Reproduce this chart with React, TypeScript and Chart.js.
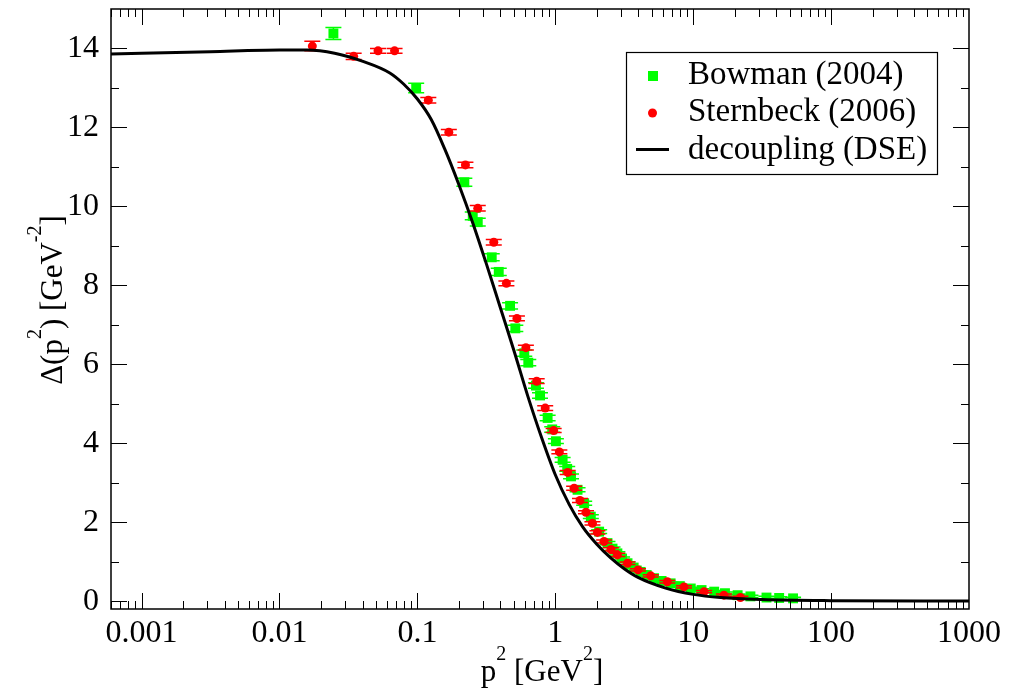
import React, { useEffect, useRef } from 'react';
import { Chart, registerables } from 'chart.js';

Chart.register(...registerables);

// ---------- data ----------
const xTickValues = [0.001, 0.01, 0.1, 1, 10, 100, 1000];
const xTickLabels = ['0.001', '0.01', '0.1', '1', '10', '100', '1000'];
const yTickValues = [0, 2, 4, 6, 8, 10, 12, 14];
const yTickLabels = ['0', '2', '4', '6', '8', '10', '12', '14'];

const bowmanX = [0.0246, 0.098, 0.219, 0.252, 0.274, 0.346, 0.389, 0.470, 0.513, 0.596, 0.637, 0.724, 0.775, 0.880, 0.95, 1.01, 1.13, 1.22, 1.30, 1.45, 1.62, 1.81, 2.08, 2.39, 2.6, 2.82, 3.05, 3.34, 3.7, 4.16, 4.6, 5.2, 5.9, 6.86, 8.0, 9.6, 11.5, 14.2, 17, 21, 26, 34, 42, 53];
const bowmanY = [14.38, 13.0, 10.61, 9.76, 9.6, 8.71, 8.34, 7.48, 6.91, 6.28, 6.04, 5.46, 5.21, 4.64, 4.35, 4.05, 3.58, 3.35, 3.16, 2.82, 2.48, 2.14, 1.76, 1.47, 1.33, 1.21, 1.08, 0.96, 0.85, 0.74, 0.66, 0.58, 0.51, 0.45, 0.38, 0.32, 0.28, 0.24, 0.2, 0.15, 0.12, 0.09, 0.08, 0.07];
const bowmanErr = [0.15, 0.12, 0.1, 0.1, 0.1, 0.09, 0.09, 0.08, 0.08, 0.08, 0.08, 0.07, 0.07, 0.07, 0.07, 0.06, 0.06, 0.06, 0.06, 0.05, 0.05, 0.05, 0.05, 0.04, 0.04, 0.04, 0.04, 0.04, 0.03, 0.03, 0.03, 0.03, 0.03, 0.03, 0.03, 0.03, 0.03, 0.03, 0.03, 0.03, 0.03, 0.03, 0.03, 0.03];

const sternbeckX = [0.0173, 0.0345, 0.0518, 0.0683, 0.120, 0.169, 0.223, 0.274, 0.358, 0.442, 0.527, 0.612, 0.733, 0.845, 0.973, 1.07, 1.23, 1.37, 1.51, 1.67, 1.86, 2.02, 2.26, 2.53, 2.82, 3.34, 3.98, 4.92, 6.49, 8.57, 12, 16.7, 22];
const sternbeckY = [14.06, 13.8, 13.94, 13.94, 12.69, 11.88, 11.05, 9.95, 9.09, 8.05, 7.16, 6.42, 5.57, 4.89, 4.32, 3.78, 3.26, 2.86, 2.55, 2.25, 1.97, 1.74, 1.51, 1.31, 1.17, 0.96, 0.79, 0.64, 0.49, 0.36, 0.24, 0.15, 0.09];
const sternbeckErr = [0.12, 0.08, 0.06, 0.06, 0.07, 0.07, 0.07, 0.07, 0.07, 0.06, 0.06, 0.06, 0.06, 0.06, 0.05, 0.05, 0.05, 0.05, 0.05, 0.04, 0.04, 0.04, 0.04, 0.04, 0.04, 0.03, 0.03, 0.03, 0.03, 0.03, 0.03, 0.03, 0.03];

const dseX = [0.0006, 0.001, 0.00316, 0.01, 0.0158, 0.0251, 0.0398, 0.0631, 0.0794, 0.1, 0.126, 0.158, 0.2, 0.251, 0.316, 0.398, 0.501, 0.631, 0.794, 1.0, 1.26, 1.58, 2.0, 2.51, 3.16, 3.98, 6.31, 10, 15.8, 31.6, 100, 1000];
const dseY = [13.86, 13.88, 13.92, 13.96, 13.96, 13.88, 13.68, 13.38, 13.1, 12.72, 12.2, 11.45, 10.55, 9.6, 8.55, 7.45, 6.35, 5.2, 4.15, 3.2, 2.45, 1.88, 1.44, 1.1, 0.82, 0.6, 0.33, 0.17, 0.09, 0.04, 0.012, 0.0];

const legendLabels = ['Bowman (2004)', 'Sternbeck (2006)', 'decoupling (DSE)'];

const X_MIN = 0.0006;
const X_MAX = 1000;
const Y_MIN = -0.2;
const Y_MAX = 15;

const FONT = "'Liberation Serif', 'Times New Roman', serif";
const GREEN = '#00ff00';
const RED = '#ff0000';

function drawRich(ctx: CanvasRenderingContext2D, parts: { t: string; sup?: boolean }[], cx: number, by: number) {
  const mainFont = `31px ${FONT}`;
  const supFont = `20px ${FONT}`;
  let w = 0;
  for (const p of parts) {
    ctx.font = p.sup ? supFont : mainFont;
    w += ctx.measureText(p.t).width;
  }
  let x = cx - w / 2;
  ctx.textAlign = 'left';
  ctx.textBaseline = 'alphabetic';
  ctx.fillStyle = '#000';
  for (const p of parts) {
    ctx.font = p.sup ? supFont : mainFont;
    ctx.fillText(p.t, x, p.sup ? by - 21 : by);
    x += ctx.measureText(p.t).width;
  }
}

const framePlugin = {
  id: 'framePlugin',
  afterDraw(chart: any) {
    const { ctx, chartArea: a, scales } = chart;
    const xs = scales.x;
    const ys = scales.y;
    ctx.save();
    ctx.strokeStyle = '#000';
    ctx.lineWidth = 1;
    ctx.beginPath();
    for (let d = -4; d <= 3; d++) {
      for (let m = 1; m <= 9; m++) {
        const v = m * Math.pow(10, d);
        if (v <= X_MIN || v >= X_MAX) continue;
        const px = Math.round(xs.getPixelForValue(v)) + 0.5;
        const len = m === 1 ? 16 : 8;
        ctx.moveTo(px, a.bottom);
        ctx.lineTo(px, a.bottom - len);
        ctx.moveTo(px, a.top);
        ctx.lineTo(px, a.top + len);
      }
    }
    for (let v = 0; v < Y_MAX; v++) {
      const py = Math.round(ys.getPixelForValue(v)) + 0.5;
      const len = v % 2 === 0 ? 16 : 8;
      ctx.moveTo(a.left, py);
      ctx.lineTo(a.left + len, py);
      ctx.moveTo(a.right, py);
      ctx.lineTo(a.right - len, py);
    }
    ctx.stroke();
    ctx.lineWidth = 1.5;
    ctx.strokeRect(a.left, a.top, a.right - a.left, a.bottom - a.top);

    // axis titles
    drawRich(ctx, [{ t: 'p' }, { t: '2', sup: true }, { t: ' [GeV' }, { t: '2', sup: true }, { t: ']' }], (a.left + a.right) / 2 + 2, 681);
    ctx.save();
    ctx.translate(62, 300);
    ctx.rotate(-Math.PI / 2);
    drawRich(ctx, [{ t: 'Δ(p' }, { t: '2', sup: true }, { t: ') [GeV' }, { t: '-2', sup: true }, { t: ']' }], 0, 0);
    ctx.restore();

    // legend
    ctx.fillStyle = '#fff';
    ctx.fillRect(626, 52, 312, 122);
    ctx.lineWidth = 1.2;
    ctx.strokeStyle = '#000';
    ctx.strokeRect(626.5, 52.5, 311, 122);
    ctx.fillStyle = GREEN;
    ctx.fillRect(648, 71, 10, 10);
    ctx.fillStyle = RED;
    ctx.beginPath();
    ctx.arc(652.5, 113, 4.5, 0, Math.PI * 2);
    ctx.fill();
    ctx.strokeStyle = '#000';
    ctx.lineWidth = 3;
    ctx.beginPath();
    ctx.moveTo(636, 149.5);
    ctx.lineTo(669, 149.5);
    ctx.stroke();
    ctx.fillStyle = '#000';
    ctx.font = `33px ${FONT}`;
    ctx.textAlign = 'left';
    ctx.textBaseline = 'alphabetic';
    ctx.fillText(legendLabels[0], 688, 84);
    ctx.fillText(legendLabels[1], 688, 121);
    ctx.fillText(legendLabels[2], 688, 159);
    ctx.restore();
  },
};

const errorBarPlugin = {
  id: 'errorBarPlugin',
  afterDatasetDraw(chart: any, args: any) {
    const ds = chart.data.datasets[args.index];
    if (!ds.errors) return;
    const { ctx } = chart;
    const ys = chart.scales.y;
    ctx.save();
    ctx.strokeStyle = ds.backgroundColor;
    ctx.lineWidth = 1.5;
    ctx.beginPath();
    args.meta.data.forEach((pt: any, i: number) => {
      const raw = ds.data[i];
      const e = ds.errors[i];
      const y1 = ys.getPixelForValue(raw.y + e);
      const y2 = ys.getPixelForValue(raw.y - e);
      ctx.moveTo(pt.x, y1);
      ctx.lineTo(pt.x, y2);
      ctx.moveTo(pt.x - 8, y1);
      ctx.lineTo(pt.x + 8, y1);
      ctx.moveTo(pt.x - 8, y2);
      ctx.lineTo(pt.x + 8, y2);
    });
    ctx.stroke();
    ctx.restore();
  },
};

export default function App() {
  const ref = useRef<HTMLCanvasElement>(null);
  useEffect(() => {
    if (!ref.current) return;
    const chart = new Chart(ref.current, {
      type: 'scatter',
      data: {
        datasets: [
          {
            label: legendLabels[2],
            data: dseX.map((x, i) => ({ x, y: dseY[i] })),
            showLine: true,
            borderColor: '#000',
            backgroundColor: '#000',
            borderWidth: 3,
            pointRadius: 0,
            cubicInterpolationMode: 'monotone',
            order: 0,
          } as any,
          {
            label: legendLabels[1],
            data: sternbeckX.map((x, i) => ({ x, y: sternbeckY[i] })),
            errors: sternbeckErr,
            pointStyle: 'circle',
            pointRadius: 4.5,
            backgroundColor: RED,
            borderColor: RED,
            borderWidth: 0,
            order: 1,
          } as any,
          {
            label: legendLabels[0],
            data: bowmanX.map((x, i) => ({ x, y: bowmanY[i] })),
            errors: bowmanErr,
            pointStyle: 'rect',
            pointRadius: 7,
            backgroundColor: GREEN,
            borderColor: GREEN,
            borderWidth: 0,
            order: 2,
          } as any,
        ],
      },
      options: {
        animation: false,
        responsive: false,
        layout: { padding: { left: 0, right: 51, top: 9, bottom: 0 } },
        plugins: { legend: { display: false }, tooltip: { enabled: false } },
        scales: {
          x: {
            type: 'logarithmic',
            min: X_MIN,
            max: X_MAX,
            grid: { display: false, drawTicks: false },
            border: { display: false },
            ticks: {
              autoSkip: false,
              maxRotation: 0,
              padding: 5,
              color: '#000',
              font: { family: FONT, size: 32 },
              callback: (_v: any, i: number) => xTickLabels[i],
            },
            afterBuildTicks: (s: any) => {
              s.ticks = xTickValues.map((value) => ({ value }));
            },
            afterFit: (s: any) => {
              s.height = 84;
              s.paddingLeft = 0;
              s.paddingRight = 0;
            },
          },
          y: {
            type: 'linear',
            min: Y_MIN,
            max: Y_MAX,
            grid: { display: false, drawTicks: false },
            border: { display: false },
            ticks: {
              autoSkip: false,
              padding: 12,
              color: '#000',
              font: { family: FONT, size: 32 },
              callback: (_v: any, i: number) => yTickLabels[i],
            },
            afterBuildTicks: (s: any) => {
              s.ticks = yTickValues.map((value) => ({ value }));
            },
            afterFit: (s: any) => {
              s.width = 111;
              s.paddingTop = 0;
              s.paddingBottom = 0;
            },
          },
        },
      } as any,
      plugins: [errorBarPlugin, framePlugin],
    });
    return () => chart.destroy();
  }, []);
  return (
    <div style={{ position: 'fixed', left: 0, top: 0, width: 1020, height: 693, background: '#fff' }}>
      <canvas ref={ref} width={1020} height={693} style={{ display: 'block', width: 1020, height: 693 }} />
    </div>
  );
}
